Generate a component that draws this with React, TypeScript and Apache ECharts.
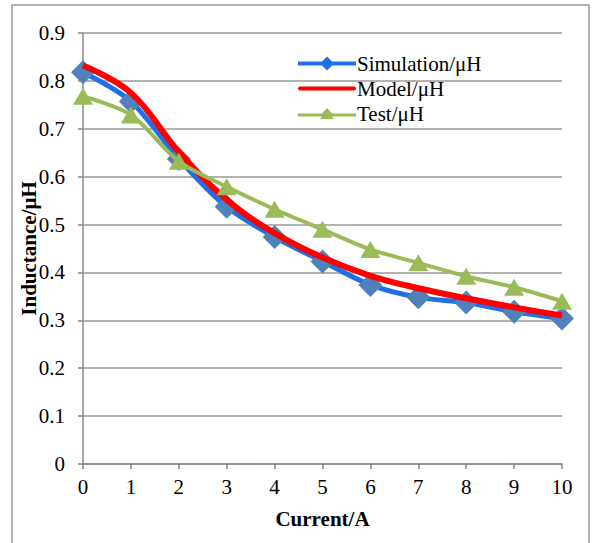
import React, { useEffect, useRef } from "react";
import * as echarts from "echarts";

const currents = [0, 1, 2, 3, 4, 5, 6, 7, 8, 9, 10];
const simulation = [0.818, 0.757, 0.637, 0.537, 0.474, 0.423, 0.374, 0.348, 0.337, 0.318, 0.304];
const model = [0.832, 0.775, 0.652, 0.552, 0.482, 0.431, 0.393, 0.367, 0.346, 0.327, 0.31];
const test = [0.768, 0.729, 0.632, 0.579, 0.532, 0.49, 0.448, 0.42, 0.392, 0.369, 0.34];

const FONT = "'Liberation Serif', 'Times New Roman', serif";

export default function App() {
  const ref = useRef<HTMLDivElement>(null);
  useEffect(() => {
    if (!ref.current) return;
    const chart = echarts.init(ref.current, null, { renderer: "svg" });
    const pair = (arr: number[]) => currents.map((c, i) => [c, arr[i]]);
    chart.setOption({
      animation: false,
      textStyle: { fontFamily: FONT },
      graphic: [
        {
          type: "rect",
          shape: { x: 12, y: 5, width: 577, height: 560 },
          style: { fill: "none", stroke: "#999", lineWidth: 1.5 },
          silent: true,
        },
      ],
      grid: { left: 83, right: 30, top: 33, bottom: 79 },
      legend: {
        left: 293,
        top: 48,
        orient: "vertical",
        itemGap: 4,
        itemWidth: 58,
        itemHeight: 22,
        textStyle: { fontFamily: FONT, fontSize: 21, color: "#000", padding: [0, 0, 0, -4] },
        data: [
          { name: "Simulation/μH", icon: "path://M0,9 L4,9 L24,9 L29,4 L34,9 L54,9 L58,9 L58,13 L54,13 L34,13 L29,18 L24,13 L4,13 L0,13 Z", itemStyle: { color: "#1f6fe8" } },
          { name: "Model/μH", icon: "path://M2,9 L56,9 Q58,9 58,11 Q58,13 56,13 L2,13 Q0,13 0,11 Q0,9 2,9 Z", itemStyle: { color: "#ff0000" } },
          { name: "Test/μH", icon: "path://M0,9.5 L24,9.5 L29,4 L34,9.5 L58,9.5 L58,12.5 L34,12.5 L36,15 L22,15 L24,12.5 L0,12.5 Z", itemStyle: { color: "#9bbb59" } },
        ],
      },
      xAxis: {
        type: "value",
        min: 0,
        max: 10,
        interval: 1,
        name: "Current/A",
        nameLocation: "middle",
        nameGap: 44,
        nameMoveOverlap: false,
        nameTextStyle: { fontFamily: FONT, fontSize: 21, fontWeight: "bold", color: "#000" },
        axisLine: { lineStyle: { color: "#888", width: 1.5 } },
        axisTick: { show: true, length: 5, lineStyle: { color: "#888", width: 1.5 } },
        axisLabel: { fontFamily: FONT, fontSize: 21, color: "#000", margin: 12 },
        splitLine: { show: false },
      },
      yAxis: {
        type: "value",
        min: 0,
        max: 0.9,
        interval: 0.1,
        name: "Inductance/μH",
        nameLocation: "middle",
        nameGap: 44,
        nameMoveOverlap: false,
        nameTextStyle: { fontFamily: FONT, fontSize: 21, fontWeight: "bold", color: "#000" },
        axisLine: { show: true, lineStyle: { color: "#888", width: 1.5 } },
        axisTick: { show: true, length: 5, lineStyle: { color: "#888", width: 1.5 } },
        axisLabel: {
          fontFamily: FONT,
          fontSize: 21,
          color: "#000",
          margin: 18,
          formatter: (v: number) => (Math.round(v * 10) / 10).toString(),
        },
        splitLine: { show: true, lineStyle: { color: "#999", width: 1.5 } },
      },
      series: [
        {
          name: "Simulation/μH",
          type: "line",
          data: pair(simulation),
          smooth: 0.3,
          symbol: "diamond",
          symbolSize: [24, 24],
          lineStyle: { color: "#1f6fe8", width: 5 },
          itemStyle: { color: "#4f81bd" },
          z: 2,
        },
        {
          name: "Model/μH",
          type: "line",
          data: pair(model),
          smooth: 0.4,
          symbol: "none",
          lineStyle: { color: "#ff0000", width: 6 },
          itemStyle: { color: "#ff0000" },
          z: 3,
        },
        {
          name: "Test/μH",
          type: "line",
          data: pair(test),
          smooth: 0.3,
          symbol: "triangle",
          symbolSize: [20, 17],
          lineStyle: { color: "#9bbb59", width: 4 },
          itemStyle: { color: "#9bbb59" },
          z: 4,
        },
      ],
    });
    return () => chart.dispose();
  }, []);
  return <div ref={ref} style={{ width: 592, height: 543, position: "absolute", left: 0, top: 0 }} />;
}
